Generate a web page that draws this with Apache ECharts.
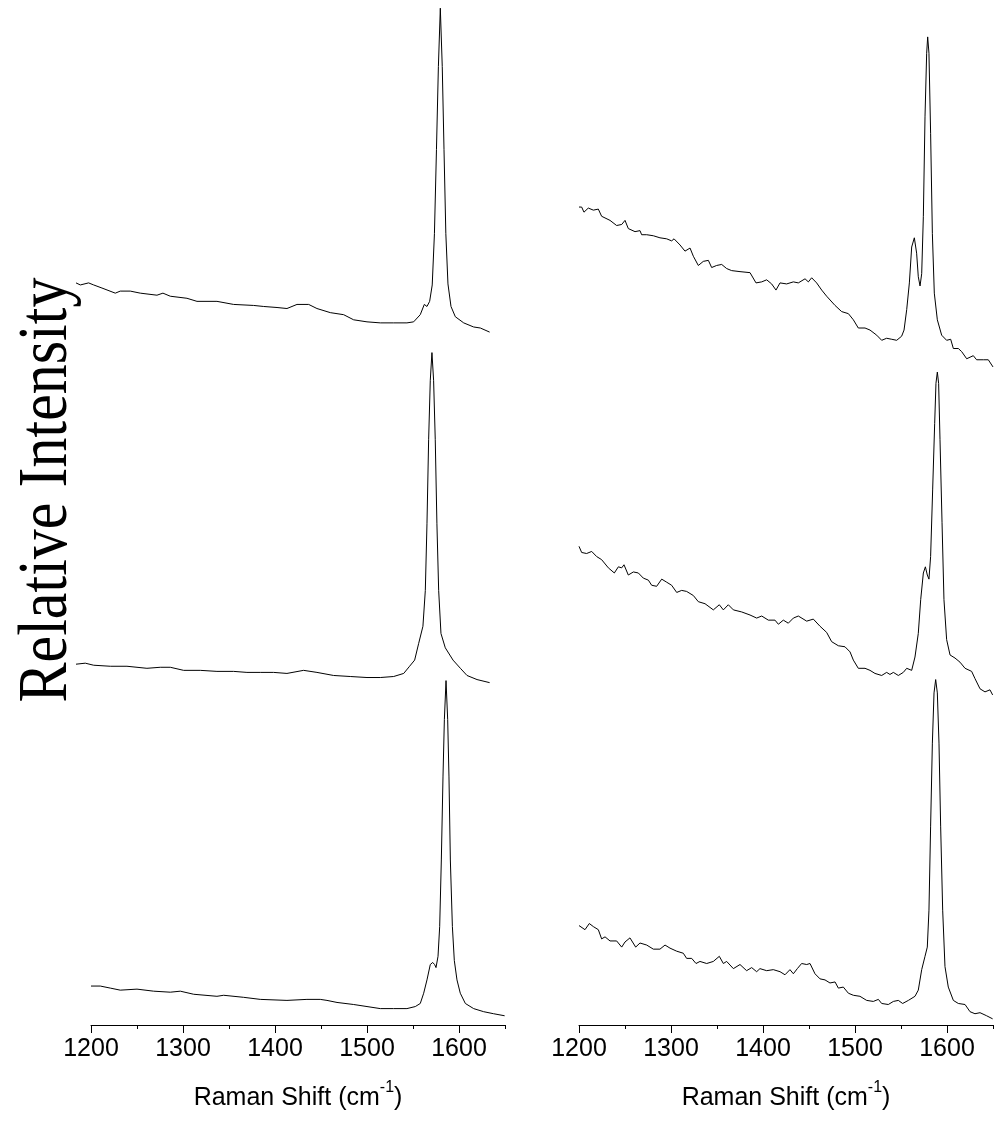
<!DOCTYPE html>
<html>
<head>
<meta charset="utf-8">
<script src="https://cdn.jsdelivr.net/npm/echarts@6/dist/echarts.min.js"></script>
<style>html,body{margin:0;padding:0;background:#fff}#c{width:996px;height:1121px}</style>
</head>
<body>
<div id="c"></div>
<script>
// Tick values of the Raman shift axes (cm-1)
const majorTicks = [1200, 1300, 1400, 1500, 1600];
const minorTicks = [1250, 1350, 1450, 1550, 1650];

// Spectra: [Raman shift (cm-1), relative intensity incl. stacking offset]
const leftTop = [[1200.0,72.4],[1204.7,72.2],[1213.7,72.4],[1219.2,72.2],[1228.2,71.9],[1242.7,71.4],[1248.1,71.6],[1259.0,71.6],[1269.9,71.4],[1288.0,71.2],[1294.5,71.4],[1302.5,71.1],[1320.6,70.9],[1331.5,70.6],[1353.2,70.6],[1371.3,70.3],[1393.1,70.2],[1404.0,70.1],[1418.5,70.0],[1429.3,69.9],[1440.2,70.3],[1452.9,70.3],[1461.9,69.9],[1476.4,69.5],[1490.9,69.3],[1501.8,68.8],[1516.3,68.6],[1530.8,68.5],[1545.3,68.5],[1559.7,68.5],[1567.0,68.6],[1574.2,69.3],[1578.6,70.3],[1581.5,70.1],[1584.4,70.6],[1587.2,72.2],[1589.6,77.2],[1591.8,85.4],[1593.9,93.5],[1596.0,99.2],[1598.1,93.5],[1600.0,85.4],[1602.0,77.2],[1604.3,72.3],[1607.6,70.1],[1612.3,69.1],[1621.4,68.5],[1632.2,68.1],[1639.5,68.0],[1649.6,67.6]];
const leftMid = [[1200.0,35.2],[1210.1,35.3],[1219.2,35.1],[1237.3,35.0],[1255.4,35.0],[1277.1,34.8],[1291.6,34.9],[1302.5,34.9],[1317.0,34.6],[1335.1,34.6],[1353.2,34.5],[1371.3,34.5],[1385.8,34.4],[1400.3,34.4],[1414.8,34.4],[1429.3,34.3],[1447.4,34.6],[1461.9,34.4],[1480.0,34.1],[1498.1,34.0],[1516.3,33.9],[1530.8,33.9],[1545.3,34.0],[1556.2,34.3],[1562.6,35.0],[1568.1,35.6],[1572.4,37.2],[1577.1,38.9],[1579.7,42.4],[1581.5,48.9],[1583.3,57.1],[1585.1,62.9],[1586.9,65.6],[1588.7,62.9],[1590.5,57.1],[1592.3,48.9],[1594.2,42.4],[1596.7,38.2],[1601.4,36.8],[1609.8,35.6],[1617.8,34.8],[1625.0,34.1],[1635.9,33.7],[1649.6,33.4]];
const leftBot = [[1200,3.8],[1210.1,3.8],[1221.0,3.6],[1231.8,3.4],[1250.0,3.5],[1268.1,3.3],[1286.2,3.2],[1297.1,3.3],[1311.6,3.0],[1336.9,2.8],[1344.2,2.9],[1365.9,2.7],[1384.0,2.5],[1413.0,2.4],[1434.7,2.5],[1449.2,2.5],[1456.5,2.4],[1467.4,2.2],[1485.5,2.0],[1500.0,1.8],[1514.5,1.6],[1528.9,1.6],[1543.4,1.6],[1552.5,1.8],[1557.9,2.1],[1561.6,3.1],[1565.2,4.4],[1568.8,5.9],[1571.4,6.1],[1573.5,5.9],[1575.0,5.6],[1577.2,6.7],[1579.0,9.6],[1580.8,16.1],[1582.6,24.2],[1584.1,29.8],[1585.9,33.6],[1587.7,29.8],[1589.1,24.2],[1590.6,16.1],[1592.8,9.6],[1594.9,6.3],[1597.8,4.4],[1601.4,3.1],[1606.9,2.1],[1615.9,1.6],[1626.8,1.3],[1637.6,1.1],[1649.6,0.9]];
const rightTop = [[1200,79.8],[1202.9,79.8],[1205.4,79.3],[1210.1,79.7],[1215.6,79.5],[1221.0,79.6],[1224.6,78.9],[1233.7,78.5],[1240.9,78.0],[1246.4,78.1],[1250.0,78.5],[1253.6,77.7],[1260.9,77.4],[1266.3,77.5],[1268.1,77.1],[1273.6,77.1],[1280.8,77.0],[1288.0,76.8],[1295.3,76.7],[1300.7,76.5],[1303.3,76.7],[1309.8,76.1],[1315.2,75.5],[1320.7,75.8],[1324.3,75.0],[1329.7,74.1],[1335.1,74.5],[1340.6,74.6],[1344.2,73.9],[1349.6,74.1],[1355.1,74.2],[1360.5,73.8],[1365.9,73.6],[1375.0,73.5],[1385.9,73.4],[1392.4,72.4],[1398.6,72.5],[1404.0,72.7],[1409.4,72.3],[1414.1,71.7],[1418.5,72.4],[1425.7,72.3],[1433.0,72.5],[1438.4,72.4],[1445.7,72.8],[1449.3,72.5],[1452.9,72.9],[1458.3,72.4],[1463.8,71.7],[1469.2,71.1],[1478.3,70.2],[1485.5,69.6],[1492.8,69.4],[1498.2,68.8],[1503.6,68.0],[1510.9,68.0],[1516.3,67.8],[1523.6,67.3],[1529.0,66.8],[1534.4,67.0],[1539.9,66.9],[1545.3,66.8],[1550.7,67.2],[1553.3,67.8],[1556.2,69.8],[1559.1,72.4],[1561.6,75.9],[1564.5,76.8],[1567.0,75.3],[1568.8,73.0],[1570.7,72.1],[1572.5,73.3],[1574.3,78.9],[1576.1,88.6],[1577.9,94.8],[1579.0,96.4],[1580.4,94.8],[1582.2,87.0],[1584.1,77.2],[1586.2,71.4],[1589.5,68.8],[1594.2,67.3],[1599.6,66.8],[1604.0,66.9],[1606.9,66.0],[1612.3,66.0],[1615.9,65.7],[1621.4,65.0],[1628.6,65.3],[1632.2,64.9],[1639.5,64.9],[1644.9,64.9],[1650,64.2]];
const rightMid = [[1200,46.7],[1202.9,46.1],[1208.3,46.0],[1213.8,46.2],[1219.2,45.7],[1224.6,45.4],[1231.9,44.6],[1238.4,44.1],[1242.8,44.7],[1246.4,44.6],[1248.9,44.9],[1253.6,43.9],[1259.1,44.2],[1264.5,44.1],[1269.9,43.6],[1275.4,43.4],[1279.0,42.9],[1284.4,42.8],[1289.9,43.5],[1295.3,43.2],[1300.7,42.9],[1306.2,42.2],[1311.6,42.4],[1317.0,42.3],[1324.3,41.9],[1329.7,41.3],[1337.0,41.1],[1346.0,40.5],[1352.5,41.0],[1356.9,40.5],[1362.3,41.0],[1367.8,40.5],[1376.8,40.3],[1385.9,40.0],[1393.1,39.7],[1398.6,39.9],[1405.8,39.5],[1413.0,39.5],[1416.7,39.1],[1422.1,39.5],[1427.5,39.2],[1433.0,39.7],[1438.4,39.9],[1447.5,39.4],[1454.7,39.6],[1462.0,38.9],[1469.2,38.3],[1474.6,37.4],[1481.9,37.0],[1489.1,36.9],[1494.6,36.4],[1498.2,35.6],[1503.6,34.8],[1510.9,34.8],[1516.3,34.6],[1521.7,34.3],[1529.0,34.1],[1534.4,34.4],[1538.0,34.2],[1541.7,34.4],[1547.1,34.1],[1552.5,34.4],[1556.2,34.8],[1561.6,34.6],[1565.2,35.9],[1568.8,38.2],[1571.4,41.5],[1574.3,44.1],[1576.5,44.7],[1578.6,43.9],[1580.4,43.5],[1582.2,45.7],[1584.4,52.2],[1586.6,58.7],[1588.0,62.6],[1589.5,63.7],[1590.9,62.6],[1592.4,57.1],[1594.6,49.0],[1596.7,41.5],[1599.6,37.6],[1603.3,36.1],[1608.7,35.8],[1614.1,35.4],[1619.6,34.8],[1626.8,34.5],[1630.4,33.8],[1635.9,32.8],[1641.3,32.5],[1646.7,32.7],[1649.6,32.2]];
const rightBot = [[1200,9.7],[1206.5,9.3],[1211.2,9.9],[1215.6,9.6],[1221.0,9.3],[1224.6,8.4],[1228.3,8.6],[1233.7,8.2],[1240.9,8.2],[1246.4,7.6],[1250.0,8.1],[1255.4,8.5],[1261.6,7.6],[1266.3,8.0],[1273.6,7.8],[1280.8,7.4],[1288.0,7.4],[1293.5,7.8],[1298.9,7.5],[1306.2,7.2],[1313.4,7.0],[1317.0,6.5],[1322.5,6.5],[1327.2,6.0],[1331.5,6.2],[1338.8,6.0],[1346.0,6.2],[1352.5,6.7],[1356.9,6.0],[1360.5,6.2],[1367.8,5.5],[1375.0,5.9],[1382.2,5.3],[1387.7,5.6],[1393.1,5.2],[1396.7,5.5],[1404.0,5.3],[1411.2,5.4],[1418.5,5.2],[1423.9,4.9],[1429.3,5.4],[1433.0,5.0],[1437.3,5.5],[1442.0,6.0],[1447.5,5.9],[1451.1,6.0],[1456.5,5.0],[1462.0,4.5],[1467.4,4.4],[1472.8,4.1],[1478.3,4.2],[1481.9,3.6],[1487.3,3.7],[1492.8,3.1],[1498.2,2.9],[1505.4,2.8],[1512.7,2.4],[1519.9,2.3],[1525.4,2.5],[1529.0,2.1],[1536.2,2.0],[1541.7,2.3],[1547.1,2.4],[1551.8,2.1],[1558.0,2.4],[1565.2,2.8],[1568.8,3.4],[1572.5,5.4],[1576.1,6.7],[1578.6,7.6],[1580.4,11.2],[1582.2,19.4],[1584.1,27.5],[1585.9,32.4],[1587.7,33.7],[1589.5,32.4],[1591.3,27.5],[1593.1,19.4],[1595.3,11.2],[1597.8,5.7],[1601.4,3.7],[1606.9,2.4],[1612.3,2.1],[1619.6,2.0],[1625.0,1.3],[1630.4,1.1],[1635.9,1.2],[1643.1,0.9],[1649.6,0.6]];

const xTitle = '{a|Raman Shift (cm}{s|-1}{a|)}';
const yTitle = 'Relative Intensity';

const FONT = 'Liberation Sans';
const black = '#000';

function visibleX(grid) {
  return {
    gridIndex: grid, type: 'value', min: 1200, max: 1650, position: 'bottom',
    axisLine: { show: true, lineStyle: { color: black, width: 1 } },
    axisTick: { show: true, length: 8, customValues: majorTicks, lineStyle: { color: black, width: 1 } },
    axisLabel: { show: true, customValues: majorTicks, fontSize: 25, fontFamily: FONT, color: black, margin: 12,
      formatter: function (v) { return String(v); } },
    splitLine: { show: false },
    name: xTitle, nameLocation: 'middle', nameGap: 55,
    nameTextStyle: { rich: {
      a: { fontSize: 25, fontFamily: FONT, color: black },
      s: { fontSize: 16, fontFamily: FONT, color: black, padding: [0, 0, 20, 0] }
    } }
  };
}
function minorX(grid) {
  return {
    gridIndex: grid, type: 'value', min: 1200, max: 1650, position: 'bottom', offset: 0,
    axisLine: { show: false },
    axisTick: { show: true, length: 4, customValues: minorTicks, lineStyle: { color: black, width: 1 } },
    axisLabel: { show: false }, splitLine: { show: false }
  };
}
function hiddenY(grid) {
  return { gridIndex: grid, type: 'value', min: 0, max: 100, show: false, splitLine: { show: false } };
}
function trace(data, xi, yi) {
  return { type: 'line', data: data, xAxisIndex: xi, yAxisIndex: yi, showSymbol: false, symbol: 'none',
    lineStyle: { color: black, width: 1 }, silent: true, animation: false };
}

const chart = echarts.init(document.getElementById('c'), null, { renderer: 'canvas' });
chart.setOption({
  animation: false,
  backgroundColor: '#fff',
  grid: [
    { left: 91, width: 414, top: 0, height: 1025, containLabel: false, outerBoundsMode: 'none' },
    { left: 76, width: 414, top: 0, height: 1025, containLabel: false, outerBoundsMode: 'none' },
    { left: 579, width: 414, top: 0, height: 1025, containLabel: false, outerBoundsMode: 'none' }
  ],
  xAxis: [
    visibleX(0), minorX(0),
    { gridIndex: 1, type: 'value', min: 1200, max: 1650, show: false, splitLine: { show: false } },
    visibleX(2), minorX(2)
  ],
  yAxis: [hiddenY(0), hiddenY(1), hiddenY(2)],
  graphic: [{
    type: 'text', x: 48, y: 490, rotation: Math.PI / 2, scaleX: 1, scaleY: 1.15,
    style: { text: yTitle, font: '60px "Liberation Serif"', fill: black,
      align: 'center', verticalAlign: 'middle', textAlign: 'center', textVerticalAlign: 'middle' }
  }],
  series: [
    trace(leftTop, 2, 1),
    trace(leftMid, 2, 1),
    trace(leftBot, 0, 0),
    trace(rightTop, 3, 2),
    trace(rightMid, 3, 2),
    trace(rightBot, 3, 2)
  ]
});
</script>
</body>
</html>
